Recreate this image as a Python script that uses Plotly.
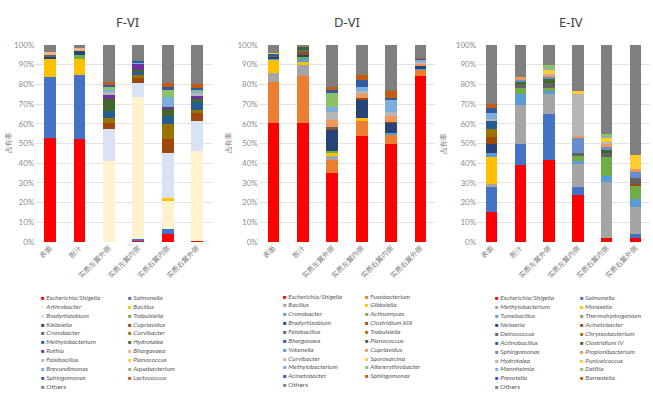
import plotly.graph_objects as go

W, H = 653, 398

categories = ["表面", "胆汁", "实质左翼外侧", "实质左翼内侧", "实质右翼内侧", "实质右翼外侧"]
titles = ["F-VI", "D-VI", "E-IV"]
y_title = "占有率"

# ---------------- F-VI ----------------
f_names = ["Escherichia/Shigella", "Salmonella", "Arthrobacter", "Bacillus", "Bradyrhizobium",
           "Trabulsiella", "Klebsiella", "Cupriavidus", "Cronobacter", "Curvibacter",
           "Methylobacterium", "Hydrotalea", "Rothia", "Bhargavaea", "Falsibacillus",
           "Planococcus", "Brevundimonas", "Aquabacterium", "Sphingomonas", "Lactococcus", "Others"]
f_colors = ["#FF0000", "#4472C4", "#FFF2CC", "#FFC000", "#DAE3F3", "#70AD47", "#264478", "#9E480E",
            "#636363", "#997300", "#255E91", "#43682B", "#7030A0", "#F4B183", "#B7B7B7", "#FFCD33",
            "#7CAFDD", "#8CC168", "#335AA1", "#C55A11", "#7F7F7F"]
f_values = [
    [53, 52.5, 0, 0.5, 4, 0.5],
    [30.5, 32, 0, 1.0, 2.5, 0],
    [0, 0, 41, 72, 14.5, 45.5],
    [9.5, 8.5, 0, 0, 1.5, 0],
    [0, 0, 16.5, 7, 22.5, 15.5],
    [0, 2, 0, 0, 0, 0],
    [1.2, 2, 0, 0, 0, 0],
    [0, 0, 3, 2.5, 7.5, 4],
    [0.8, 0, 0, 0, 0, 0],
    [0, 0, 2.5, 2, 7.5, 1.5],
    [0, 0, 3.5, 1.5, 4, 4],
    [0, 0, 6, 1, 3.5, 1.5],
    [0, 0, 2, 3, 1, 2],
    [1.5, 1.5, 0, 0, 0, 0],
    [0, 0, 1.5, 0, 0, 1],
    [0, 0, 0, 0, 0, 0],
    [0, 0, 1.5, 0.5, 5, 1.5],
    [0, 0, 1, 0, 3.5, 0.5],
    [0, 0, 1.5, 1, 1.5, 0.5],
    [0, 0, 1, 0, 2, 2],
    [3.5, 1.5, 19, 8, 19.5, 20],
]

# ---------------- D-VI ----------------
d_names = ["Escherichia/Shigella", "Fusobacterium", "Bacillus", "Gibbsiella", "Cronobacter",
           "Actinomyces", "Bradyrhizobium", "Clostridium XIX", "Falsibacillus", "Trabulsiella",
           "Bhargavaea", "Planococcus", "Yokenella", "Cupriavidus", "Curvibacter",
           "Sporosarcina", "Methylobacterium", "Altererythrobacter", "Acinetobacter", "Sphingomonas", "Others"]
d_colors = ["#FF0000", "#ED7D31", "#A5A5A5", "#FFC000", "#5B9BD5", "#70AD47", "#264478", "#9E480E",
            "#636363", "#997300", "#255E91", "#43682B", "#698ED0", "#F1975A", "#B7B7B7", "#FFCD33",
            "#7CAFDD", "#8CC168", "#335AA1", "#C55A11", "#7F7F7F"]
d_values = [
    [60.5, 60.5, 35, 54, 49.5, 84],
    [20.5, 23.5, 6.5, 7.5, 5, 3.5],
    [5, 6, 2, 0, 0, 0],
    [6.5, 1.5, 2, 1.5, 0, 0],
    [0.5, 1.5, 0, 0, 1, 0.5],
    [0, 1, 0.5, 0, 0, 0],
    [1, 1, 11, 9.5, 5, 1.5],
    [0, 1, 0.5, 0.5, 0.5, 0],
    [0.5, 1, 1, 0, 0, 0],
    [0, 0.5, 0, 0, 0, 0],
    [1, 0.5, 0, 0, 0, 0],
    [0, 1, 0, 0, 0, 0],
    [0, 0, 0, 0, 0, 0],
    [0, 0, 3.5, 2.5, 3, 1],
    [0, 0, 4, 1, 2, 1],
    [0.5, 0, 0, 0, 0, 0],
    [0, 0, 2.5, 2, 6.5, 1],
    [0, 0, 7.5, 0, 0, 0],
    [0, 0, 1, 3.5, 0.5, 0.5],
    [0, 0, 1.5, 3, 3.5, 0.5],
    [4, 1, 21.5, 15, 23.5, 6.5],
]

# ---------------- E-IV ----------------
e_names = ["Escherichia/Shigella", "Salmonella", "Methylobacterium", "Moraxella", "Tumebacillus",
           "Thermohydrogenium", "Neisseria", "Acinetobacter", "Deinococcus", "Chryseobacterium",
           "Actinobacillus", "Clostridium IV", "Sphingomonas", "Propionibacterium", "Hydrotalea",
           "Puniceicoccus", "Mannheimia", "Delftia", "Prevotella", "Barnesiella", "Others"]
e_colors = ["#FF0000", "#4472C4", "#A5A5A5", "#FFC000", "#5B9BD5", "#70AD47", "#264478", "#9E480E",
            "#636363", "#997300", "#255E91", "#43682B", "#698ED0", "#F1975A", "#B7B7B7", "#FFCD33",
            "#7CAFDD", "#8CC168", "#335AA1", "#C55A11", "#7F7F7F"]
e_values = [
    [15, 39, 41.5, 24, 2, 2],
    [13, 10.5, 23.5, 4, 0, 2],
    [1.5, 20, 10, 11.5, 28.5, 13.5],
    [13.5, 0, 0, 0, 0, 0],
    [2, 5.5, 1.5, 1.5, 3, 4.5],
    [0, 3, 1.5, 2.5, 9.5, 6.5],
    [4.5, 0, 0, 0, 0, 0],
    [4, 0, 0, 0, 0, 1],
    [0, 2.5, 2.5, 1.5, 2, 3],
    [4, 0, 0, 0, 0, 0],
    [4, 0, 0, 0, 0, 0],
    [0, 1, 2.5, 0, 1.5, 0],
    [0, 0.5, 1, 8, 1.5, 3],
    [0, 1.5, 1, 1, 2, 1.5],
    [1, 0, 0.5, 21.5, 0.5, 0],
    [0, 0, 2, 1, 2.5, 7],
    [3, 0, 0.5, 0, 0.5, 0],
    [0, 0, 2, 0, 1.5, 0],
    [2.5, 0, 0, 0, 0, 0],
    [2, 0, 0, 0, 0, 0],
    [30, 16.5, 10, 23.5, 45, 56],
]

panels = [(f_names, f_colors, f_values), (d_names, d_colors, d_values), (e_names, e_colors, e_values)]

# layout geometry (pixels)
x_domains = [(35.3, 211.8), (258.8, 435.3), (477.1, 649.9)]
plot_top, plot_bottom = 41, 243
title_x = [127, 347, 571]
ytitle_x = [8, 228, 443]
legend_cols = [(39, 126), (281, 363), (493, 578)]
legend_y0 = [300, 298.5, 300.5]
legend_step = 9.1

def px(x):
    return x / W

def py(y):
    return 1 - y / H

fig = go.Figure()
annotations = []
layout_axes = {}
for i, (names, colors, values) in enumerate(panels):
    sfx = "" if i == 0 else str(i + 1)
    for n, c, v in zip(names, colors, values):
        fig.add_trace(go.Bar(
            x=categories, y=v, name=n,
            marker=dict(color=c, line=dict(width=0)),
            xaxis="x" + sfx, yaxis="y" + sfx, showlegend=False,
        ))
    l, r = x_domains[i]
    layout_axes["xaxis" + sfx] = dict(
        domain=[px(l), px(r)], anchor="y" + sfx, tickangle=-45,
        tickfont=dict(family="Noto Sans CJK SC", size=7, color="#808080"),
        showgrid=False, showline=False, ticks="", zeroline=False,
    )
    layout_axes["yaxis" + sfx] = dict(
        domain=[py(plot_bottom), py(plot_top)], anchor="x" + sfx,
        range=[0, 100], dtick=10, ticksuffix="%",
        tickfont=dict(family="Lato", size=8, color="#8C8C8C"),
        showgrid=True, gridcolor="#E3E3E3", gridwidth=1, zeroline=False, showline=False,
        ticks="",
    )
    # panel title
    annotations.append(dict(
        text=titles[i], x=px(title_x[i]), y=py(17), xref="paper", yref="paper",
        showarrow=False, xanchor="center", yanchor="middle",
        font=dict(family="Noto Sans", size=13, color="#404040"),
    ))
    # y axis title
    annotations.append(dict(
        text=y_title, x=px(ytitle_x[i]), y=py(142), xref="paper", yref="paper",
        showarrow=False, xanchor="center", yanchor="middle", textangle=-90,
        font=dict(family="Noto Sans CJK SC", size=7, color="#808080"),
    ))
    # legend entries (two columns, row-major order)
    for k, (n, c) in enumerate(zip(names, colors)):
        col, row = k % 2, k // 2
        label = n if n == "Others" else "<i>" + n + "</i>"
        annotations.append(dict(
            text='<span style="color:' + c + ';font-size:6px">■</span> ' + label,
            x=px(legend_cols[i][col]), y=py(legend_y0[i] + row * legend_step),
            xref="paper", yref="paper", showarrow=False,
            xanchor="left", yanchor="middle",
            font=dict(family="Lato", size=6.5, color="#595959"),
        ))

fig.update_layout(
    width=W, height=H, autosize=False,
    margin=dict(l=0, r=0, t=0, b=0),
    paper_bgcolor="white", plot_bgcolor="white",
    barmode="stack", bargap=0.6,
    showlegend=False,
    annotations=annotations,
    **layout_axes,
)

fig.write_html("out.html")
